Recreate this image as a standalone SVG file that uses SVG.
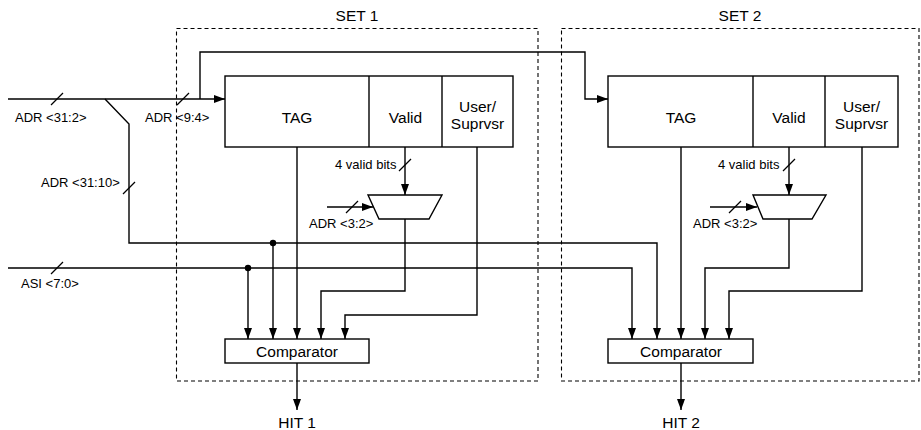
<svg xmlns="http://www.w3.org/2000/svg" width="921" height="430" viewBox="0 0 921 430">
<style>
  .bg{fill:#fff}
  .box{fill:#fff;stroke:#000;stroke-width:1.4}
  .set{fill:none;stroke:#000;stroke-width:1.1;stroke-dasharray:4 3}
  .w{fill:none;stroke:#000;stroke-width:1.4}
  .sl{fill:none;stroke:#000;stroke-width:1.3}
  .t{font-family:"Liberation Sans",Arial,sans-serif;fill:#000}
  .big{font-size:15.5px}
  .sm{font-size:13px}
  .dot{fill:#000}
</style>
<defs>
  <marker id="ah" markerUnits="userSpaceOnUse" markerWidth="11" markerHeight="8" refX="11" refY="4" orient="auto">
    <path d="M0,0 L11,4 L0,8 z" fill="#000"/>
  </marker>
</defs>
<rect class="bg" width="921" height="430"/>

<g id="set1">
  <rect class="set" x="176.5" y="28.5" width="361.5" height="352.5"/>
  <text class="t big" x="357" y="21" text-anchor="middle">SET 1</text>
</g>
<g id="set2">
  <rect class="set" x="561.5" y="28.5" width="357.5" height="352.5"/>
  <text class="t big" x="740" y="21" text-anchor="middle">SET 2</text>
</g>

<g id="tags1">
  <rect class="box" x="225" y="76" width="288" height="71"/>
  <line class="w" x1="369" y1="76" x2="369" y2="147"/>
  <line class="w" x1="442" y1="76" x2="442" y2="147"/>
  <text class="t big" x="297" y="122.5" text-anchor="middle">TAG</text>
  <text class="t big" x="405.5" y="122.5" text-anchor="middle">Valid</text>
  <text class="t big" x="477.5" y="111.5" text-anchor="middle">User/</text>
  <text class="t big" x="477.5" y="128.5" text-anchor="middle">Suprvsr</text>
</g>
<g id="tags2">
  <rect class="box" x="608" y="76" width="290" height="71"/>
  <line class="w" x1="753" y1="76" x2="753" y2="147"/>
  <line class="w" x1="825" y1="76" x2="825" y2="147"/>
  <text class="t big" x="681" y="122.5" text-anchor="middle">TAG</text>
  <text class="t big" x="789" y="122.5" text-anchor="middle">Valid</text>
  <text class="t big" x="861.5" y="111.5" text-anchor="middle">User/</text>
  <text class="t big" x="861.5" y="128.5" text-anchor="middle">Suprvsr</text>
</g>

<g id="mux1">
  <polygon class="box" points="368,195 442,195 429,219 379,219"/>
</g>
<g id="mux2">
  <polygon class="box" points="753,195 826,195 812,219 763,219"/>
</g>

<g id="comp1">
  <rect class="box" x="225" y="339" width="144" height="24"/>
  <text class="t big" x="297" y="356.5" text-anchor="middle">Comparator</text>
</g>
<g id="comp2">
  <rect class="box" x="608" y="339" width="145" height="24"/>
  <text class="t big" x="681" y="356.5" text-anchor="middle">Comparator</text>
</g>

<g id="connectors">
  <!-- ADR <31:2> bus -->
  <polyline class="w" points="8,99 225,99" marker-end="url(#ah)"/>
  <polyline class="w" points="200,99 200,52 585,52 585,99 608,99" marker-end="url(#ah)"/>
  <!-- ADR <31:10> branch -->
  <polyline class="w" points="105,99 129,124 129,243 657,243 657,339" marker-end="url(#ah)"/>
  <line class="w" x1="273" y1="243" x2="273" y2="339" marker-end="url(#ah)"/>
  <circle class="dot" cx="273" cy="243" r="3.2"/>
  <!-- ASI -->
  <polyline class="w" points="8,268 632,268 632,339" marker-end="url(#ah)"/>
  <line class="w" x1="248" y1="268" x2="248" y2="339" marker-end="url(#ah)"/>
  <circle class="dot" cx="248" cy="268" r="3.2"/>

  <!-- set 1 internals -->
  <line class="w" x1="297" y1="147" x2="297" y2="339" marker-end="url(#ah)"/>
  <line class="w" x1="405" y1="147" x2="405" y2="195" marker-end="url(#ah)"/>
  <polyline class="w" points="405,219 405,291 321,291 321,339" marker-end="url(#ah)"/>
  <polyline class="w" points="477,147 477,315 345,315 345,339" marker-end="url(#ah)"/>
  <line class="w" x1="327" y1="207" x2="373" y2="207" marker-end="url(#ah)"/>
  <line class="w" x1="297" y1="363" x2="297" y2="410" marker-end="url(#ah)"/>

  <!-- set 2 internals -->
  <line class="w" x1="681" y1="147" x2="681" y2="339" marker-end="url(#ah)"/>
  <line class="w" x1="789" y1="147" x2="789" y2="195" marker-end="url(#ah)"/>
  <polyline class="w" points="789,219 789,268 705,268 705,339" marker-end="url(#ah)"/>
  <polyline class="w" points="862,147 862,291 729,291 729,339" marker-end="url(#ah)"/>
  <line class="w" x1="710" y1="207" x2="757" y2="207" marker-end="url(#ah)"/>
  <line class="w" x1="681" y1="363" x2="681" y2="410" marker-end="url(#ah)"/>

  <!-- bus width slashes -->
  <line class="sl" x1="51" y1="105" x2="63" y2="93"/>
  <line class="sl" x1="177" y1="105" x2="189" y2="93"/>
  <line class="sl" x1="123" y1="194" x2="135" y2="182"/>
  <line class="sl" x1="51" y1="274" x2="63" y2="262"/>
  <line class="sl" x1="399" y1="171" x2="411" y2="159"/>
  <line class="sl" x1="346" y1="213" x2="358" y2="201"/>
  <line class="sl" x1="783" y1="171" x2="795" y2="159"/>
  <line class="sl" x1="729" y1="213" x2="741" y2="201"/>
</g>

<g id="labels">
  <text class="t sm" x="15" y="121.5">ADR &lt;31:2&gt;</text>
  <text class="t sm" x="145" y="121.5">ADR &lt;9:4&gt;</text>
  <text class="t sm" x="41" y="187">ADR &lt;31:10&gt;</text>
  <text class="t sm" x="21" y="288">ASI &lt;7:0&gt;</text>
  <text class="t sm" x="335" y="169">4 valid bits</text>
  <text class="t sm" x="309" y="228">ADR &lt;3:2&gt;</text>
  <text class="t sm" x="718" y="169">4 valid bits</text>
  <text class="t sm" x="693" y="228">ADR &lt;3:2&gt;</text>
  <text class="t big" x="297" y="428" text-anchor="middle">HIT 1</text>
  <text class="t big" x="681" y="428" text-anchor="middle">HIT 2</text>
</g>
</svg>
